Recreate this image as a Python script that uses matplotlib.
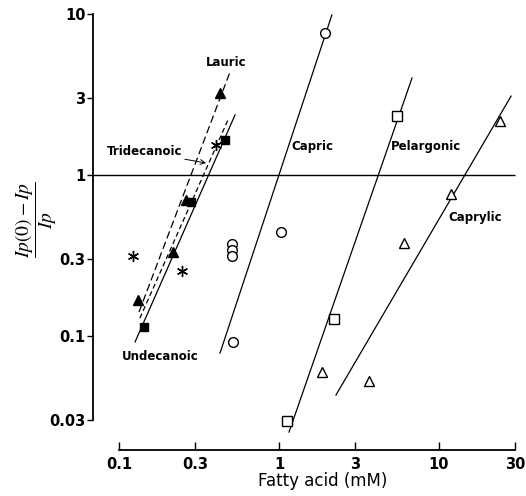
import numpy as np
import matplotlib
matplotlib.use("Agg")
import matplotlib.pyplot as plt

plt.rcParams['font.family'] = ['Liberation Sans Narrow', 'DejaVu Sans']
plt.rcParams['mathtext.fontset'] = 'stix'

# Lauric acid (filled triangles, dashed line)
lauric_x = [0.1315, 0.2175, 0.262, 0.428]
lauric_y = [0.167, 0.332, 0.70, 3.23]
lauric_line_x = [0.1334, 0.494]
lauric_line_y = [0.141, 4.36]

# Tridecanoic acid (stars, short dashed line)
tridec_x = [0.1223, 0.2477, 0.404]
tridec_y = [0.314, 0.253, 1.54]
tridec_line_x = [0.135, 0.48]
tridec_line_y = [0.129, 2.2]

# Undecanoic acid (filled squares, solid line)
undec_x = [0.143, 0.282, 0.46]
undec_y = [0.1137, 0.68, 1.65]
undec_line_x = [0.126, 0.531]
undec_line_y = [0.0918, 2.36]

# Capric acid (open circles)
capric_x = [0.508, 0.508, 0.508, 0.516, 1.03, 1.94]
capric_y = [0.373, 0.342, 0.315, 0.092, 0.443, 7.62]
capric_line_x = [0.428, 2.14]
capric_line_y = [0.0784, 9.86]

# Pelargonic acid (open squares)
pelarg_x = [1.122, 2.21, 5.46]
pelarg_y = [0.0297, 0.1276, 2.33]
pelarg_line_x = [1.155, 6.78]
pelarg_line_y = [0.0253, 4.0]

# Caprylic acid (open triangles)
capryl_x = [1.858, 3.65, 6.04, 11.9, 24.06]
capryl_y = [0.0598, 0.0525, 0.378, 0.762, 2.17]
capryl_line_x = [2.27, 28.2]
capryl_line_y = [0.043, 3.09]

xticks = [0.1, 0.3, 1, 3, 10, 30]
xtick_labels = ["0.1", "0.3", "1", "3", "10", "30"]
yticks = [0.03, 0.1, 0.3, 1, 3, 10]
ytick_labels = ["0.03", "0.1", "0.3", "1", "3", "10"]

fig = plt.figure(figsize=(5.26, 4.96), dpi=100)
ax = fig.add_axes([0.1768, 0.0927, 0.8118, 0.8831])
ax.set_xscale("log")
ax.set_yscale("log")
ax.set_xlim(0.06879, 32.07)
ax.set_ylim(0.01958, 10.29)

lw = 0.9
ax.plot(lauric_line_x, lauric_line_y, color="black", lw=lw, dashes=(6, 3))
ax.plot(tridec_line_x, tridec_line_y, color="black", lw=lw, dashes=(4, 2.5))
ax.plot(undec_line_x, undec_line_y, color="black", lw=lw)
ax.plot(capric_line_x, capric_line_y, color="black", lw=lw)
ax.plot(pelarg_line_x, pelarg_line_y, color="black", lw=lw)
ax.plot(capryl_line_x, capryl_line_y, color="black", lw=lw)
ax.hlines(1, ax.get_xlim()[0], 30, color="black", lw=1.0)

ax.plot(lauric_x, lauric_y, "^", color="black", ms=6.5, ls="none")
ax.plot(undec_x, undec_y, "s", color="black", ms=6, ls="none")
ax.plot(tridec_x, tridec_y, marker=(6, 2, 0), color="black", ms=8, mew=1.0, ls="none")
ax.plot(capric_x, capric_y, "o", mfc="white", mec="black", ms=7, mew=1.0, ls="none")
ax.plot(pelarg_x, pelarg_y, "s", mfc="white", mec="black", ms=6.5, mew=1.0, ls="none")
ax.plot(capryl_x, capryl_y, "^", mfc="white", mec="black", ms=7, mew=1.0, ls="none")

lab = dict(fontsize=8.5, fontweight="bold", ha="center", va="center")
ax.text(0.466, 5.03, "Lauric", **lab)
ax.text(1.61, 1.51, "Capric", **lab)
ax.text(8.3, 1.51, "Pelargonic", **lab)
ax.text(16.8, 0.548, "Caprylic", **lab)
ax.text(0.180, 0.0751, "Undecanoic", **lab)
ax.annotate("Tridecanoic", xy=(0.350, 1.187), xytext=(0.248, 1.39),
            fontsize=8.5, fontweight="bold", ha="right", va="center",
            arrowprops=dict(arrowstyle="->", color="black", lw=0.7,
                            shrinkA=0, shrinkB=0))

for s in ["top", "right"]:
    ax.spines[s].set_visible(False)
ax.spines["left"].set_bounds(0.03, 10)
ax.spines["bottom"].set_bounds(0.1, 30)
ax.spines["left"].set_linewidth(1.3)
ax.spines["bottom"].set_linewidth(1.3)

ax.set_xticks(xticks)
ax.set_xticklabels(xtick_labels)
ax.set_yticks(yticks)
ax.set_yticklabels(ytick_labels)
ax.minorticks_off()
ax.tick_params(axis="x", direction="in", length=6, width=1.0, pad=5,
               labelsize=10.5)
ax.tick_params(axis="y", direction="out", length=4, width=1.0, pad=1.5,
               labelsize=10.5)
for t in ax.get_xticklabels() + ax.get_yticklabels():
    t.set_fontweight("bold")

fig.text(323 / 526, 1 - 481 / 496, "Fatty acid (mM)", fontsize=12,
         ha="center", va="center")
fig.text(36 / 526, 1 - 220 / 496, r"$\dfrac{Ip(0)-Ip}{Ip}$", fontsize=14,
         rotation=90, ha="center", va="center")

fig.savefig("out.png", dpi=100)
